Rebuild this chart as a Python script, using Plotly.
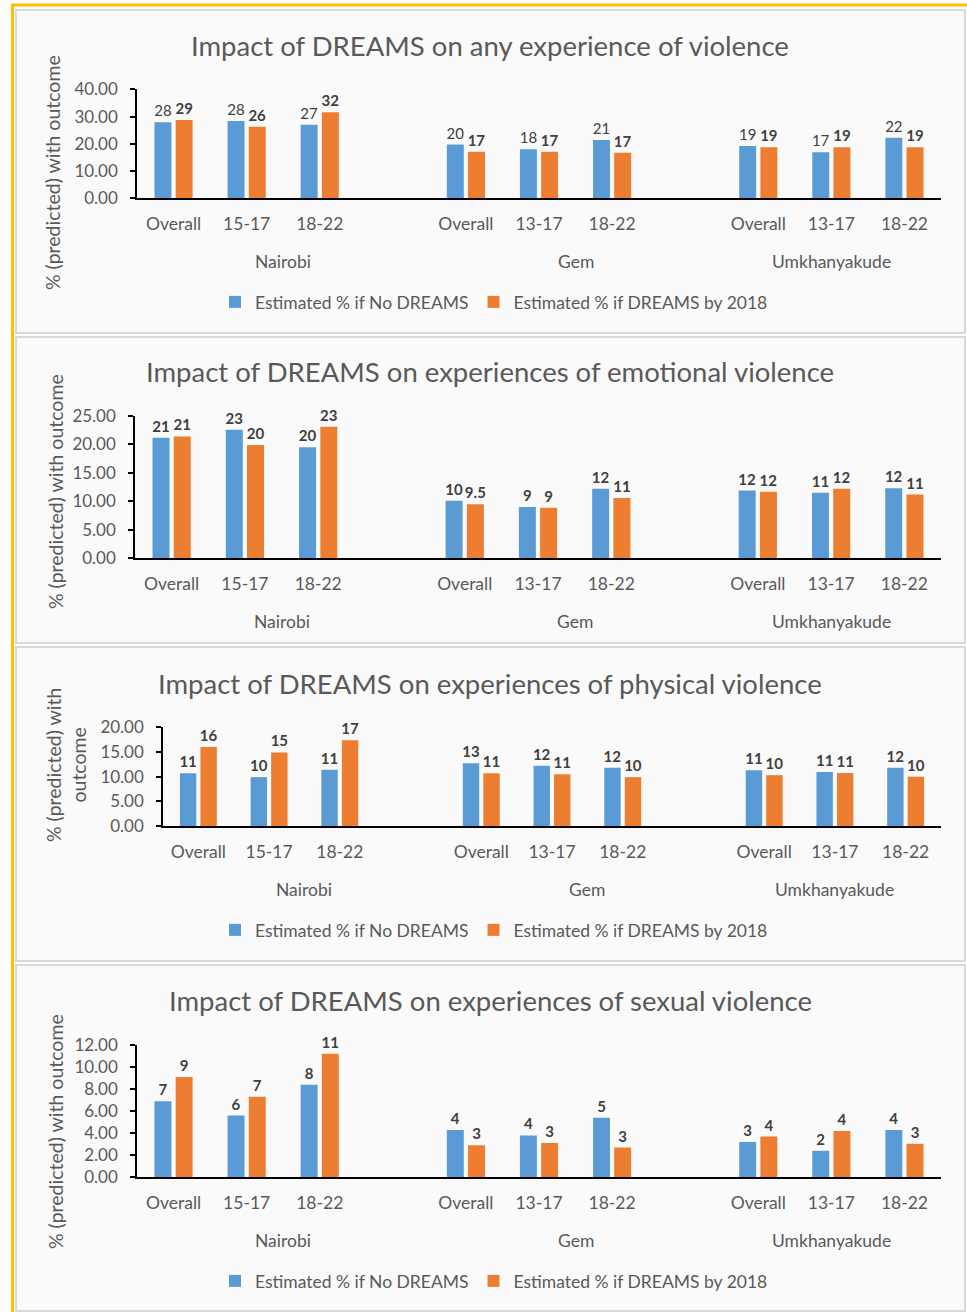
import plotly.graph_objects as go

W, H = 967, 1312

# ---------------- data ----------------
groups = ["Nairobi", "Gem", "Umkhanyakude"]
group_cats = [["Overall", "15-17", "18-22"],
              ["Overall", "13-17", "18-22"],
              ["Overall", "13-17", "18-22"]]
series_names = ["Estimated % if No DREAMS", "Estimated % if DREAMS by 2018"]

titles = ["Impact of DREAMS on any experience of violence",
          "Impact of DREAMS on experiences of emotional violence",
          "Impact of DREAMS on experiences of physical violence",
          "Impact of DREAMS on experiences of sexual violence"]

any_no = [27.9, 28.4, 27.0, 19.7, 18.0, 21.4, 19.2, 16.9, 22.2]
any_yes = [28.7, 26.3, 31.6, 17.1, 17.1, 16.7, 18.7, 18.7, 18.7]
any_no_lbl = ["28", "28", "27", "20", "18", "21", "19", "17", "22"]
any_yes_lbl = ["29", "26", "32", "17", "17", "17", "19", "19", "19"]

emo_no = [21.2, 22.6, 19.5, 10.1, 9.0, 12.2, 11.9, 11.5, 12.3]
emo_yes = [21.4, 19.9, 23.1, 9.5, 8.9, 10.6, 11.7, 12.2, 11.2]
emo_no_lbl = ["21", "23", "20", "10", "9", "12", "12", "11", "12"]
emo_yes_lbl = ["21", "20", "23", "9.5", "9", "11", "12", "12", "11"]

phys_no = [10.7, 9.9, 11.4, 12.7, 12.2, 11.8, 11.3, 10.95, 11.8]
phys_yes = [16.0, 14.9, 17.4, 10.7, 10.5, 9.9, 10.3, 10.75, 10.0]
phys_no_lbl = ["11", "10", "11", "13", "12", "12", "11", "11", "12"]
phys_yes_lbl = ["16", "15", "17", "11", "11", "10", "10", "11", "10"]

sex_no = [6.9, 5.6, 8.4, 4.3, 3.8, 5.4, 3.2, 2.4, 4.3]
sex_yes = [9.1, 7.3, 11.2, 2.9, 3.1, 2.7, 3.7, 4.2, 3.05]
sex_no_lbl = ["7", "6", "8", "4", "4", "5", "3", "2", "4"]
sex_yes_lbl = ["9", "7", "11", "3", "3", "3", "4", "4", "3"]

y_max = [40, 25, 20, 12]
y_step = [10, 5, 5, 2]

# ---------------- styling / layout geometry (pixels) ----------------
FONT = "Lato"
TXT = "#595959"
LBL = "#404040"
BLUE = "#5B9BD5"
ORANGE = "#ED7D31"

panels = [
    dict(box=(10, 333), px=(137, 941), py=(89.3, 198.3), title_y=45,
         ytitle=(53, 173), legend_y=302, bold=(False, True), ytxt="% (predicted) with outcome"),
    dict(box=(337, 643), px=(135, 941), py=(416, 558.3), title_y=372,
         ytitle=(55, 492), legend_y=None, bold=(True, True), ytxt="% (predicted) with outcome"),
    dict(box=(647, 961), px=(163, 941), py=(727.3, 826), title_y=683,
         ytitle=(66, 765), legend_y=930, bold=(True, True), ytxt="% (predicted) with<br>outcome"),
    dict(box=(965, 1311), px=(137, 941), py=(1045, 1177.3), title_y=1000,
         ytitle=(55, 1132), legend_y=1281, bold=(True, True), ytxt="% (predicted) with outcome"),
]

data_no = [any_no, emo_no, phys_no, sex_no]
data_yes = [any_yes, emo_yes, phys_yes, sex_yes]
lbl_no = [any_no_lbl, emo_no_lbl, phys_no_lbl, sex_no_lbl]
lbl_yes = [any_yes_lbl, emo_yes_lbl, phys_yes_lbl, sex_yes_lbl]

keys = [f"{g}|{c}" for g, cs in zip(groups, group_cats) for c in cs]
cat_labels = [c for cs in group_cats for c in cs]
cat_array = []
group_span = []
for gi, (g, cs) in enumerate(zip(groups, group_cats)):
    start = len(cat_array)
    cat_array += [f"{g}|{c}" for c in cs]
    if gi < len(groups) - 1:
        cat_array.append(f"{g}|")
    group_span.append((start - 0.5, len(cat_array) - 0.5))


def px_x(v):
    return v / W


def px_y(v):
    return 1 - v / H


fig = go.Figure()
shapes = []
annotations = []

for p in panels:
    t, b = p["box"]
    shapes.append(dict(type="rect", xref="paper", yref="paper", x0=px_x(16), x1=px_x(965),
                       y0=px_y(b), y1=px_y(t), fillcolor="#FAFAFA",
                       line=dict(color="#D9D9D9", width=2), layer="below"))
shapes.append(dict(type="line", xref="paper", yref="paper", x0=px_x(12.5), x1=px_x(12.5),
                   y0=0, y1=px_y(4), line=dict(color="#FFC000", width=3)))
shapes.append(dict(type="line", xref="paper", yref="paper", x0=px_x(11), x1=1,
                   y0=px_y(5), y1=px_y(5), line=dict(color="#FFC000", width=3)))

legend_names = ["legend", None, "legend2", "legend3"]

for i, p in enumerate(panels):
    n = "" if i == 0 else str(i + 1)
    xa, ya = "x" + n, "y" + n
    leg = legend_names[i]
    for s, (vals, lbls, col, bold) in enumerate(zip([data_no[i], data_yes[i]],
                                                     [lbl_no[i], lbl_yes[i]],
                                                     [BLUE, ORANGE], p["bold"])):
        tr = dict(x=keys, y=vals, name=series_names[s], marker=dict(color=col, line=dict(width=0)),
                  text=lbls, textposition="outside",
                  constraintext="none", cliponaxis=False,
                  textfont=dict(family=FONT, size=15, color=LBL, weight="bold" if bold else "normal"),
                  xaxis=xa, yaxis=ya, hoverinfo="skip")
        if leg is None:
            tr["showlegend"] = False
        else:
            tr["legend"] = leg
        fig.add_trace(go.Bar(**tr))

    x0, x1 = p["px"]
    yt, yz = p["py"]
    fig.layout["xaxis" + n] = dict(
        domain=[px_x(x0), px_x(x1)], anchor=ya, type="category", automargin=False,
        categoryorder="array", categoryarray=cat_array,
        range=[-0.5, len(cat_array) - 0.5],
        tickmode="array", tickvals=keys, ticktext=cat_labels,
        ticks="", ticklabelstandoff=9,
        tickfont=dict(family=FONT, size=17.5, color=TXT),
        showline=True, linecolor="black", linewidth=1.5, showgrid=False, zeroline=False)
    ym, st = y_max[i], y_step[i]
    tv = [k * st for k in range(int(ym / st) + 1)]
    fig.layout["yaxis" + n] = dict(
        domain=[px_y(yz), px_y(yt)], anchor=xa, range=[0, ym], automargin=False,
        tickmode="array", tickvals=tv, ticktext=[f"{v:.2f}" for v in tv],
        ticks="outside", ticklen=5, tickcolor="black", tickwidth=1.5, ticklabelstandoff=9,
        tickfont=dict(family=FONT, size=17, color=TXT),
        showline=True, linecolor="black", linewidth=1.5, showgrid=False, zeroline=False)

    bounds = sorted(set([b for span in group_span for b in span]))
    for bx in bounds:
        shapes.append(dict(type="line", xref=xa, yref=ya, x0=bx, x1=bx, ysizemode="pixel",
                           yanchor=0, y0=0, y1=-75, line=dict(color="black", width=1.5)))
    for g, (a, b) in zip(groups, group_span):
        annotations.append(dict(text=g, xref=xa, yref=ya, x=(a + b) / 2, y=0, yshift=-63,
                                showarrow=False, yanchor="middle",
                                font=dict(family=FONT, size=17.5, color=TXT)))

    annotations.append(dict(text=titles[i], xref="paper", yref="paper", x=px_x(490),
                            y=px_y(p["title_y"]), showarrow=False, yanchor="middle",
                            xanchor="center", font=dict(family=FONT, size=27.5, color=TXT)))
    tx, ty = p["ytitle"]
    annotations.append(dict(text=p["ytxt"], xref="paper", yref="paper", x=px_x(tx), y=px_y(ty),
                            showarrow=False, textangle=-90, xanchor="center", yanchor="middle",
                            font=dict(family=FONT, size=19.5, color=TXT)))

    if leg is not None:
        fig.layout[leg] = dict(orientation="h", x=px_x(494), xanchor="center",
                               y=px_y(p["legend_y"]), yanchor="middle",
                               bgcolor="rgba(0,0,0,0)",
                               font=dict(family=FONT, size=17.5, color=TXT),
                               itemclick=False, itemdoubleclick=False)

fig.update_layout(
    width=W, height=H, margin=dict(l=0, r=0, t=0, b=0, pad=0, autoexpand=False),
    paper_bgcolor="white", plot_bgcolor="rgba(0,0,0,0)",
    barmode="group", bargap=0.42, bargroupgap=0.2,
    shapes=shapes, annotations=annotations,
    font=dict(family=FONT, color=TXT),
)

fig.write_html("out.html", config={"displayModeBar": False},
               post_script="document.body.style.margin='0px';")
